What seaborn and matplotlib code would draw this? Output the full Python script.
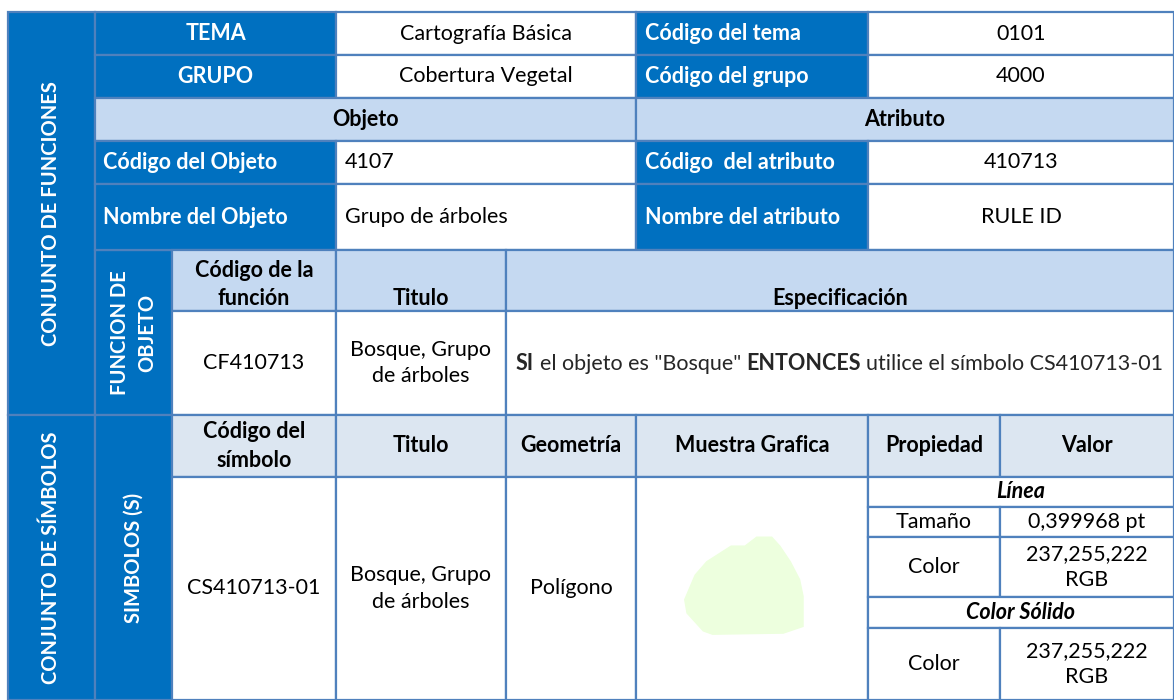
import matplotlib
matplotlib.use("Agg")
import matplotlib.pyplot as plt
from matplotlib.patches import Rectangle, Polygon
import seaborn as sns

# ---------------- table content ----------------
tema_row = ["TEMA", "Cartografía Básica", "Código del tema", "0101"]
grupo_row = ["GRUPO", "Cobertura Vegetal", "Código del grupo", "4000"]
section_headers = ["Objeto", "Atributo"]
codigo_row = ["Código del Objeto", "4107", "Código  del atributo", "410713"]
nombre_row = ["Nombre del Objeto", "Grupo de árboles", "Nombre del atributo", "RULE ID"]

side_labels = ["CONJUNTO DE FUNCIONES", "CONJUNTO DE SÍMBOLOS"]
sub_labels = ["FUNCION DE\nOBJETO", "SIMBOLOS (S)"]

funcion_headers = ["Código de la\nfunción", "Titulo", "Especificación"]
funcion_values = ["CF410713", "Bosque, Grupo\nde árboles"]
spec_parts = ["SI", 'el objeto es "Bosque"', "ENTONCES", "utilice el símbolo CS410713-01"]
spec_bold = [True, False, True, False]

simbolo_headers = ["Código del\nsímbolo", "Titulo", "Geometría", "Muestra Grafica", "Propiedad", "Valor"]
simbolo_values = ["CS410713-01", "Bosque, Grupo\nde árboles", "Polígono"]
prop_names = ["Línea", "Tamaño", "Color", "Color Sólido", "Color"]
prop_values = [None, "0,399968 pt", "237,255,222\nRGB", None, "237,255,222\nRGB"]
sample_rgb = (237, 255, 222)

# ---------------- layout (pixels) ----------------
W, H = 1174, 700
cols = [8, 95, 172, 336, 506, 636, 868, 1000, 1174]
rows = [12, 55, 98, 141, 184, 250, 311, 415, 477, 507, 537, 597, 628, 700]

BLUE = "#0070C0"
HEAD1 = "#C5D9F1"
HEAD2 = "#DCE6F1"
LINE = "#4F81BD"
FS = 15.5
FS_SIDE = 14.5
LS = 1.42

sns.set_theme(style="white")
plt.rcParams["font.family"] = ["Lato", "DejaVu Sans"]

fig = plt.figure(figsize=(W / 100, H / 100), dpi=100)
ax = fig.add_axes([0, 0, 1, 1])
ax.set_xlim(0, W)
ax.set_ylim(H, 0)
ax.axis("off")


def cell(x0, x1, y0, y1, fill="white", text=None, color="black", bold=False,
         align="center", italic=False, va="center", rot=0, pad=9, ls=LS, fs=FS):
    ax.add_patch(Rectangle((x0, y0), x1 - x0, y1 - y0, facecolor=fill,
                           edgecolor=LINE, lw=1.6, zorder=1))
    if text is None:
        return
    if align == "left":
        tx, ha = x0 + pad, "left"
    else:
        tx, ha = (x0 + x1) / 2, "center"
    if va == "bottom":
        ty = y1 - 2
    else:
        ty = (y0 + y1) / 2
    ax.text(tx, ty, text, ha=ha, va=va, color=color, fontsize=fs,
            fontweight="bold" if bold else "normal",
            fontstyle="italic" if italic else "normal",
            rotation=rot, linespacing=ls, zorder=3, multialignment="center")


c = cols
r = rows

# side columns
cell(c[0], c[1], r[0], r[7], BLUE, side_labels[0], "white", True, rot=90, fs=FS_SIDE)
cell(c[0], c[1], r[7], r[13], BLUE, side_labels[1], "white", True, rot=90, fs=FS_SIDE)
cell(c[1], c[2], r[5], r[7], BLUE, sub_labels[0], "white", True, rot=90, fs=FS_SIDE)
cell(c[1], c[2], r[7], r[13], BLUE, sub_labels[1], "white", True, rot=90, fs=FS_SIDE)

# top section
for i, row in enumerate([tema_row, grupo_row]):
    y0, y1 = r[i], r[i + 1]
    cell(c[1], c[3], y0, y1, BLUE, row[0], "white", True)
    cell(c[3], c[5], y0, y1, "white", row[1])
    cell(c[5], c[6], y0, y1, BLUE, row[2], "white", True, align="left")
    cell(c[6], c[8], y0, y1, "white", row[3])

cell(c[1], c[5], r[2], r[3], HEAD1, section_headers[0], bold=True)
cell(c[5], c[8], r[2], r[3], HEAD1, section_headers[1], bold=True)

for i, row in enumerate([codigo_row, nombre_row]):
    y0, y1 = r[3 + i], r[4 + i]
    cell(c[1], c[3], y0, y1, BLUE, row[0], "white", True, align="left", pad=8)
    cell(c[3], c[5], y0, y1, "white", row[1], align="left")
    cell(c[5], c[6], y0, y1, BLUE, row[2], "white", True, align="left")
    cell(c[6], c[8], y0, y1, "white", row[3])

# function section
cell(c[2], c[3], r[5], r[6], HEAD1, funcion_headers[0], bold=True, va="bottom")
cell(c[3], c[4], r[5], r[6], HEAD1, funcion_headers[1], bold=True, va="bottom")
cell(c[4], c[8], r[5], r[6], HEAD1, funcion_headers[2], bold=True, va="bottom")
cell(c[2], c[3], r[6], r[7], "white", funcion_values[0])
cell(c[3], c[4], r[6], r[7], "white", funcion_values[1])
cell(c[4], c[8], r[6], r[7], "white")

# rich specification text
fig.canvas.draw()
rend = fig.canvas.get_renderer()


def text_width(s, bold):
    t = ax.text(0, 0, s, fontsize=FS, fontweight="bold" if bold else "normal")
    bb = t.get_window_extent(rend)
    t.remove()
    return bb.width


space = text_width("x x", False) - text_width("xx", False)
xpos = c[4] + 10
ybase = (r[6] + r[7]) / 2 + 7
for part, b in zip(spec_parts, spec_bold):
    ax.text(xpos, ybase, part, fontsize=FS, fontweight="bold" if b else "normal",
            va="baseline", ha="left", zorder=3)
    xpos += text_width(part, b) + space

# symbol section
for j, h in enumerate(simbolo_headers):
    cell(c[2 + j], c[3 + j], r[7], r[8], HEAD2, h, bold=True)
cell(c[2], c[3], r[8], r[13], "white", simbolo_values[0])
cell(c[3], c[4], r[8], r[13], "white", simbolo_values[1])
cell(c[4], c[5], r[8], r[13], "white", simbolo_values[2])
cell(c[5], c[6], r[8], r[13], "white")

for k, (name, val) in enumerate(zip(prop_names, prop_values)):
    y0, y1 = r[8 + k], r[9 + k]
    if val is None:
        cell(c[6], c[8], y0, y1, "white", name, bold=True, italic=True)
    else:
        cell(c[6], c[7], y0, y1, "white", name)
        cell(c[7], c[8], y0, y1, "white", val)

# graphic sample: polygon outline as fractions of the sample cell
blob = [(0.52, 0.27), (0.585, 0.27), (0.62, 0.31), (0.665, 0.38), (0.705, 0.46),
        (0.72, 0.535), (0.72, 0.67), (0.635, 0.70), (0.33, 0.705), (0.29, 0.69),
        (0.22, 0.61), (0.21, 0.55), (0.255, 0.44), (0.305, 0.38), (0.41, 0.31),
        (0.47, 0.31)]
sx0, sx1, sy0, sy1 = c[5], c[6], r[8], r[13]
pts = [(sx0 + fx * (sx1 - sx0), sy0 + fy * (sy1 - sy0)) for fx, fy in blob]
ax.add_patch(Polygon(pts, closed=True,
                     facecolor=tuple(v / 255 for v in sample_rgb),
                     edgecolor=tuple(v / 255 for v in sample_rgb), lw=1, zorder=2))

fig.savefig("out.png", dpi=100)
